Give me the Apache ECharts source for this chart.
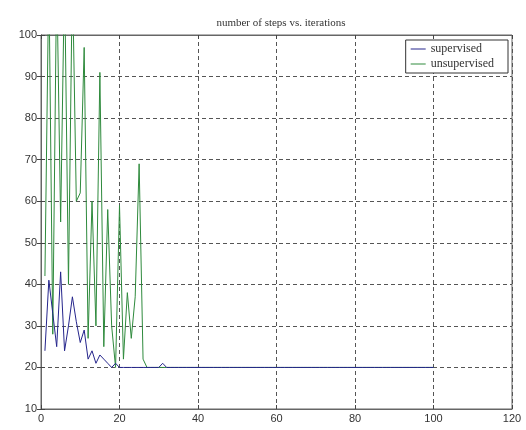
<!DOCTYPE html>
<html>
<head>
<meta charset="utf-8">
<script src="https://cdn.jsdelivr.net/npm/echarts@6/dist/echarts.min.js"></script>
<style>
html,body{margin:0;padding:0;background:#fff;}
#chart{width:526px;height:430px;}
</style>
</head>
<body>
<div id="chart"></div>
<script>
var titleText = 'number of steps vs. iterations';
var seriesNames = ['supervised', 'unsupervised'];
var xTicks = [0, 20, 40, 60, 80, 100, 120];
var yTicks = [10, 20, 30, 40, 50, 60, 70, 80, 90, 100];

var supervised = [
  24,41,33,25,43,24,30,37,31,26, 29,22,24,21,23,22,21,20,21,20,
  20,20,20,20,20,20,20,20,20,20, 21,20,20,20,20,20,20,20,20,20,
  20,20,20,20,20,20,20,20,20,20, 20,20,20,20,20,20,20,20,20,20,
  20,20,20,20,20,20,20,20,20,20, 20,20,20,20,20,20,20,20,20,20,
  20,20,20,20,20,20,20,20,20,20, 20,20,20,20,20,20,20,20,20,20
];
var unsupervised = [
  42,115,28,115,55,115,40,115,60,62, 97,27,60,30,91,25,58,30,20,59,
  22,38,27,37,69,22,20,20,20,20, 20,20,20,20,20,20,20,20,20,20,
  20,20,20,20,20,20,20,20,20,20, 20,20,20,20,20,20,20,20,20,20,
  20,20,20,20,20,20,20,20,20,20, 20,20,20,20,20,20,20,20,20,20,
  20,20,20,20,20,20,20,20,20,20, 20,20,20,20,20,20,20,20,20,20
];

var toPairs = function (arr) { return arr.map(function (v, i) { return [i + 1, v]; }); };

var chart = echarts.init(document.getElementById('chart'), null, {renderer: 'canvas'});
var labelStyle = {color: '#333', fontFamily: 'Liberation Sans, Arial, sans-serif', fontSize: 11};
var gridLine = {show: true, lineStyle: {color: '#555', type: [4, 3], width: 1}};
var frameLine = {show: true, lineStyle: {color: '#666', width: 1}};
chart.setOption({
  animation: false,
  backgroundColor: '#fff',
  title: {
    text: titleText, left: 276, top: 13, textAlign: 'center',
    textStyle: {fontFamily: 'Liberation Serif, Times New Roman, serif', fontSize: 11, fontWeight: 'normal', color: '#333'}
  },
  legend: {
    data: [
      {name: seriesNames[0], itemStyle: {color: '#25258c'}},
      {name: seriesNames[1], itemStyle: {color: '#2e8a3c'}}
    ],
    orient: 'vertical', right: 18, top: 40,
    icon: 'rect', itemWidth: 15, itemHeight: 1, itemGap: 3,
    backgroundColor: '#fff', borderColor: '#333', borderWidth: 1, borderRadius: 0,
    padding: [3, 14, 3, 5],
    textStyle: {fontFamily: 'Liberation Serif, Times New Roman, serif', fontSize: 12, lineHeight: 11, color: '#333'}
  },
  grid: {left: 41, right: 14, top: 35, bottom: 21, show: true, borderColor: '#666', borderWidth: 1, backgroundColor: 'transparent'},
  xAxis: [{
    type: 'value', min: 0, max: 120, interval: 20, position: 'bottom',
    axisLine: frameLine, axisTick: {show: true, inside: true, length: 4, lineStyle: {color: '#444'}},
    axisLabel: Object.assign({margin: 4, formatter: function (v) { return xTicks.indexOf(v) >= 0 ? String(v) : ''; }}, labelStyle),
    splitLine: gridLine
  }, {
    type: 'value', min: 0, max: 120, interval: 20, position: 'top',
    axisLine: frameLine, axisTick: {show: true, inside: true, length: 4, lineStyle: {color: '#444'}},
    axisLabel: {show: false}, splitLine: {show: false}
  }],
  yAxis: [{
    type: 'value', min: 10, max: 100, interval: 10, position: 'left',
    axisLine: frameLine, axisTick: {show: true, inside: true, length: 4, lineStyle: {color: '#444'}},
    axisLabel: Object.assign({margin: 4, formatter: function (v) { return yTicks.indexOf(v) >= 0 ? String(v) : ''; }}, labelStyle),
    splitLine: gridLine
  }, {
    type: 'value', min: 10, max: 100, interval: 10, position: 'right',
    axisLine: frameLine, axisTick: {show: true, inside: true, length: 4, lineStyle: {color: '#444'}},
    axisLabel: {show: false}, splitLine: {show: false}
  }],
  series: [{
    name: seriesNames[0], type: 'line', data: toPairs(supervised), showSymbol: false, symbol: 'none',
    clip: true, z: 3,
    lineStyle: {color: '#25258c', width: 1}, itemStyle: {color: '#25258c'}
  }, {
    name: seriesNames[1], type: 'line', data: toPairs(unsupervised), showSymbol: false, symbol: 'none',
    clip: true, z: 2,
    lineStyle: {color: '#2e8a3c', width: 1}, itemStyle: {color: '#2e8a3c'}
  }]
});
</script>
</body>
</html>
